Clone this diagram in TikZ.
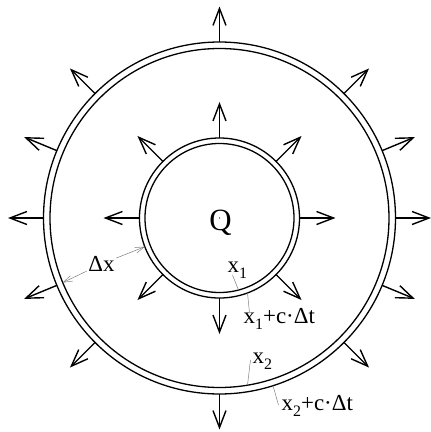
\documentclass[tikz,border=0pt]{standalone}
\usepackage{fontspec}
\setmainfont{Liberation Serif}
\usetikzlibrary{arrows.meta}

\newcommand{\sub}[1]{\raisebox{-0.28em}{\fontsize{16}{16}\selectfont #1}}

\begin{document}
\begin{tikzpicture}[
  x=1bp, y=1bp,
  ring/.style={line width=1.3bp},
  ray/.style={line width=1.4bp, -{Straight Barb[length=17bp, width=13bp]}},
  leader/.style={draw=gray, line width=0.5bp},
  dimline/.style={draw=gray, line width=0.5bp, -{Straight Barb[length=9bp, width=6bp]}},
  lbl/.style={inner sep=0pt, font=\fontsize{23}{26}\selectfont}
]
\useasboundingbox (-219.5,-214) rectangle (211.5,218);

% Outer ring (x2 and x2+c dt)
\draw[ring] (0,0) circle (176) (0,0) circle (169.5);
% Inner ring (x1 and x1+c dt)
\draw[ring] (0,0) circle (80) (0,0) circle (74.5);

% Rays leaving the rings
\foreach \a in {0,22.5,45,90,135,157.5,180,202.5,225,270,315,337.5}
  \draw[ray] (\a:176) -- (\a:211.5);
\foreach \a in {0,45,...,315}
  \draw[ray] (\a:80) -- (\a:116);

% Source in the middle
\fill (0,0) circle (0.7);
\node[inner sep=0pt, anchor=base, font=\fontsize{31}{34}\selectfont] (q) at (1,-12) {Q};

% Labels of the rings
\node[lbl, anchor=base west] (x1) at (8,-54) {x\sub{1}};
\node[lbl, anchor=base west] (x1c) at (24,-105) {x\sub{1}+c·Δt};
\node[lbl, anchor=base west] (x2) at (33,-145) {x\sub{2}};
\node[lbl, anchor=base west] (x2c) at (62,-192) {x\sub{2}+c·Δt};
\node[lbl, inner sep=1.5bp] (dx) at (-118,-46) {Δx};

% Points on the rings
\coordinate (r1) at (-75.2:74.5);
\coordinate (r1c) at (-69.5:80);
\coordinate (r2) at (-80.5:169.5);
\coordinate (r2c) at (-72.3:176);
\coordinate (da) at (202.4:169.5);
\coordinate (db) at (201:80);

% Leaders
\draw[leader] ([shift={(5,-3)}]x1.base west) -- (r1);
\draw[leader] (r1c) -- ([shift={(6,10)}]x1c.base west);
\draw[leader] ([shift={(-2,3)}]x2.base west) -- (r2);
\draw[leader] (r2c) -- ([shift={(-3,5)}]x2c.base west);

% Width of the layer
\draw[dimline] (dx) -- (da);
\draw[dimline] (dx) -- (db);

\end{tikzpicture}
\end{document}
